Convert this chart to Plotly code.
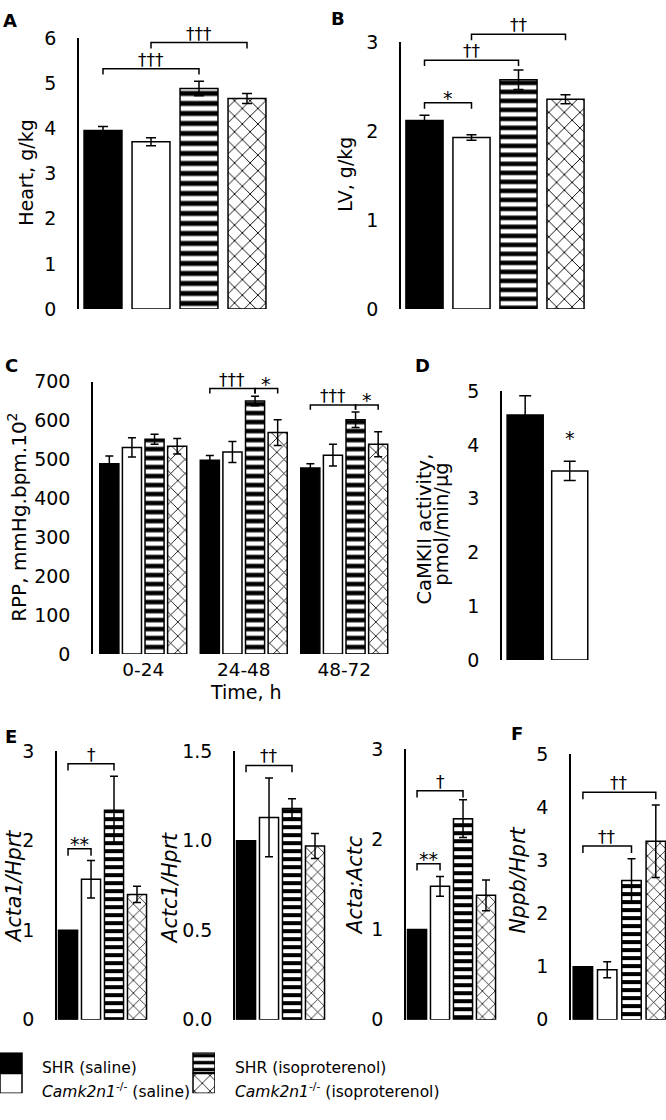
import plotly.graph_objects as go

W, H = 666, 1120
FONT = "DejaVu Sans, Liberation Sans, Arial, sans-serif"

# ---------------- data ----------------
series_names = ["SHR (saline)", "Camk2n1-/- (saline)", "SHR (isoproterenol)", "Camk2n1-/- (isoproterenol)"]

heart = [3.96, 3.71, 4.89, 4.67]
heart_err = [0.09, 0.09, 0.16, 0.11]

lv = [2.12, 1.93, 2.58, 2.36]
lv_err = [0.06, 0.03, 0.11, 0.05]

time_bins = ["0-24", "24-48", "48-72"]
rpp_shr_saline = [489, 498, 478]
rpp_ko_saline = [531, 519, 511]
rpp_shr_iso = [552, 650, 602]
rpp_ko_iso = [534, 569, 539]
rpp_shr_saline_err = [20, 12, 11]
rpp_ko_saline_err = [25, 27, 28]
rpp_shr_iso_err = [13, 12, 20]
rpp_ko_iso_err = [20, 33, 32]

camk = [4.56, 3.52]
camk_err = [0.36, 0.18]

acta1 = [1.0, 1.57, 2.34, 1.40]
acta1_err = [0, 0.21, 0.38, 0.09]
actc1 = [1.0, 1.13, 1.18, 0.97]
actc1_err = [0, 0.22, 0.055, 0.07]
acta_actc = [1.0, 1.48, 2.23, 1.38]
acta_actc_err = [0, 0.11, 0.21, 0.17]
nppb = [1.0, 0.94, 2.62, 3.36]
nppb_err = [0, 0.15, 0.41, 0.68]

# ---------------- geometry (pixels) ----------------
GEO = {
    "A": dict(n=1, xd=(79, 271), xr=(-0.5, 3.5), yd=(28, 304), yr=(0, 6), dt=1),
    "B": dict(n=2, xd=(401, 589), xr=(-0.5, 3.5), yd=(32, 304), yr=(0, 3), dt=1),
    "C": dict(n=3, xd=(93, 394.5), xr=(-0.5, 2.5), yd=(378, 656), yr=(0, 700), dt=100),
    "D": dict(n=4, xd=(502, 592), xr=(-0.52, 1.5), yd=(388, 662), yr=(0, 5), dt=1),
    "E1": dict(n=5, xd=(57, 148.5), xr=(-0.48, 3.5), yd=(755, 1029), yr=(0, 3), dt=1),
    "E2": dict(n=6, xd=(235, 326.5), xr=(-0.48, 3.5), yd=(755, 1029), yr=(0, 1.5), dt=0.5),
    "E3": dict(n=7, xd=(406, 497.5), xr=(-0.48, 3.5), yd=(753, 1029), yr=(0, 3), dt=1),
    "F": dict(n=8, xd=(571, 666), xr=(-0.49, 3.42), yd=(758, 1029), yr=(0, 5), dt=1),
}


def ax_id(n, kind):
    return kind if n == 1 else f"{kind}{n}"


def paper_x(p, xv):
    g = GEO[p]
    f = (xv - g["xr"][0]) / (g["xr"][1] - g["xr"][0])
    return (g["xd"][0] + f * (g["xd"][1] - g["xd"][0])) / W


def paper_y(p, yv):
    g = GEO[p]
    f = (yv - g["yr"][0]) / (g["yr"][1] - g["yr"][0])
    return 1 - (g["yd"][1] - f * (g["yd"][1] - g["yd"][0])) / H


def style(i, stripe, cross, cross_sol=0.16):
    if i == 0:
        return dict(color="black", line=dict(color="black", width=1.5))
    if i == 1:
        return dict(color="white", line=dict(color="black", width=1.5))
    if i == 2:
        return dict(color="white", line=dict(color="black", width=1.5),
                    pattern=dict(shape="-", fgcolor="black", bgcolor="white", size=stripe, solidity=0.5,
                                 fillmode="replace"))
    return dict(color="white", line=dict(color="black", width=1.5),
                pattern=dict(shape="x", fgcolor="black", bgcolor="white", size=cross, solidity=cross_sol,
                             fillmode="replace"))


fig = go.Figure()


def add_simple(p, vals, errs, width, stripe, cross, capw):
    n = GEO[p]["n"]
    for i, (v, e) in enumerate(zip(vals, errs)):
        fig.add_trace(go.Bar(
            x=[i], y=[v], width=width, marker=style(i, stripe, cross),
            error_y=dict(type="data", array=[e], color="black", thickness=1.5, width=capw, visible=e > 0),
            xaxis=ax_id(n, "x"), yaxis=ax_id(n, "y"), showlegend=False, hoverinfo="skip"))


add_simple("A", heart, heart_err, 0.79, 10, 11, 5)
add_simple("B", lv, lv_err, 0.79, 9, 11, 5)
add_simple("D", camk, camk_err, 0.81, 9, 11, 6)
add_simple("E1", acta1, acta1_err, 0.83, 8, 9, 4)
add_simple("E2", actc1, actc1_err, 0.83, 8, 9, 4)
add_simple("E3", acta_actc, acta_actc_err, 0.83, 8, 9, 4)
add_simple("F", nppb, nppb_err, 0.8, 8, 9, 4)

# panel C grouped
c_offsets = [-0.3375, -0.1125, 0.1125, 0.3375]
c_vals = [rpp_shr_saline, rpp_ko_saline, rpp_shr_iso, rpp_ko_iso]
c_errs = [rpp_shr_saline_err, rpp_ko_saline_err, rpp_shr_iso_err, rpp_ko_iso_err]
for i in range(4):
    fig.add_trace(go.Bar(
        x=[g + c_offsets[i] for g in range(len(time_bins))], y=c_vals[i], width=0.19,
        marker=style(i, 9, 10),
        error_y=dict(type="data", array=c_errs[i], color="black", thickness=1.5, width=4),
        xaxis="x3", yaxis="y3", showlegend=False, hoverinfo="skip"))

# legend swatches subplot (9)
leg_cols = [0, 0, 1, 1]
leg_base = [1, 0, 1, 0]
for i in range(4):
    fig.add_trace(go.Bar(x=[leg_cols[i]], y=[0.96], base=[leg_base[i]], width=22 / 193,
                         marker=style(i, 7, 11, 0.14), xaxis="x9", yaxis="y9",
                         showlegend=False, hoverinfo="skip"))

layout = dict(width=W, height=H, margin=dict(l=0, r=0, t=0, b=0), autosize=False,
              paper_bgcolor="white", plot_bgcolor="rgba(0,0,0,0)", showlegend=False,
              font=dict(family=FONT, color="black"), barmode="overlay")

for p, g in GEO.items():
    n = g["n"]
    xk = "xaxis" if n == 1 else f"xaxis{n}"
    yk = "yaxis" if n == 1 else f"yaxis{n}"
    fs = 19
    layout[xk] = dict(domain=[g["xd"][0] / W, g["xd"][1] / W], range=list(g["xr"]), anchor=ax_id(n, "y"),
                      showgrid=False, zeroline=False, showline=False, showticklabels=False, ticks="",
                      fixedrange=True)
    nt = round((g["yr"][1] - g["yr"][0]) / g["dt"])
    tv = [g["yr"][0] + k * g["dt"] for k in range(nt + 1)]
    tt = [f"{v:.1f}" for v in tv] if p == "E2" else [f"{v:g}" for v in tv]
    layout[yk] = dict(domain=[1 - g["yd"][1] / H, 1 - g["yd"][0] / H], range=list(g["yr"]),
                      anchor=ax_id(n, "x"), showgrid=False, zeroline=False, showline=True,
                      linecolor="black", linewidth=1.5, ticks="", tickvals=tv, ticktext=tt,
                      tickfont=dict(size=fs, family=FONT, color="black"), ticklabelstandoff=17,
                      fixedrange=True)

layout["xaxis3"].update(showticklabels=True, tickvals=list(range(len(time_bins))), ticktext=time_bins,
                        tickfont=dict(size=18.5, family=FONT, color="black"), ticklabelstandoff=2)

layout["xaxis9"] = dict(domain=[0, 215 / W], range=[-11 / 193, 1 + 11 / 193], anchor="y9", visible=False,
                        fixedrange=True)
layout["yaxis9"] = dict(domain=[1 - 1104 / H, 1 - 1062 / H], range=[0, 2], anchor="x9", visible=False,
                        fixedrange=True)

fig.update_layout(**layout)

# ---------------- brackets ----------------
# (panel, x_from, x_to, level, label, drop_px, label_size)
brackets = [
    ("A", 0, 2, 5.33, "†††", 6, 17),
    ("A", 1, 3, 5.91, "†††", 6, 17),
    ("B", 0, 1, 2.32, "*", 6, 19),
    ("B", 0, 2, 2.80, "††", 6, 17),
    ("B", 1, 3, 3.09, "††", 6, 17),
    ("C", 1 + c_offsets[0], 1 + c_offsets[2], 682, "†††", 5, 17),
    ("C", 1 + c_offsets[2], 1 + c_offsets[3], 682, "*", 5, 19),
    ("C", 2 + c_offsets[0], 2 + c_offsets[2], 640, "†††", 5, 17),
    ("C", 2 + c_offsets[2], 2 + c_offsets[3], 640, "*", 5, 19),
    ("E1", 0, 2, 2.86, "†", 7, 17),
    ("E1", 0, 1, 1.91, "**", 7, 19),
    ("E2", 0, 2, 1.42, "††", 7, 17),
    ("E3", 0, 2, 2.54, "†", 7, 17),
    ("E3", 0, 1, 1.73, "**", 7, 19),
    ("F", 0, 2, 3.27, "††", 7, 17),
    ("F", 0, 3, 4.28, "††", 7, 17),
]

shapes = []
annotations = []
for p, x0, x1, lvl, lab, drop, ls in brackets:
    px0, px1 = paper_x(p, x0), paper_x(p, x1)
    yl = paper_y(p, lvl)
    yd = yl - drop / H
    shapes.append(dict(type="path", xref="paper", yref="paper",
                       path=f"M {px0},{yd} L {px0},{yl} L {px1},{yl} L {px1},{yd}",
                       line=dict(color="black", width=1.5)))
    star = lab.startswith("*")
    annotations.append(dict(xref="paper", yref="paper", x=(px0 + px1) / 2, y=yl, text=lab,
                            showarrow=False, xanchor="center", yanchor="bottom",
                            yshift=-8 if star else -3,
                            font=dict(size=ls, family=FONT, color="black")))

# significance star in D
annotations.append(dict(xref="paper", yref="paper", x=paper_x("D", 1), y=paper_y("D", 4.0), text="*",
                        showarrow=False, xanchor="center", yanchor="bottom", yshift=-6,
                        font=dict(size=19, family=FONT, color="black")))

# panel letters
for lab, xp, yp in [("A", 10, 10), ("B", 338, 8), ("C", 11, 362), ("D", 422, 362), ("E", 11, 740),
                    ("F", 517, 737)]:
    annotations.append(dict(xref="paper", yref="paper", x=xp / W, y=1 - yp / H, text=f"<b>{lab}</b>",
                            showarrow=False, xanchor="center", yanchor="middle",
                            font=dict(size=18, family=FONT, color="black")))

# axis titles
titles = [
    ("Heart, g/kg", 26, 165, 19),
    ("LV, g/kg", 345, 167, 19),
    ("RPP, mmHg.bpm.10<sup>2</sup>", 17, 517, 20),
    ("CaMKII activity,", 425, 529, 19.5),
    ("pmol/min/µg", 442, 524, 19.5),
    ("<i>Acta1/Hprt</i>", 14, 893, 20.5),
    ("<i>Actc1/Hprt</i>", 170, 895, 20.5),
    ("<i>Acta:Actc</i>", 355, 893, 20.5),
    ("<i>Nppb/Hprt</i>", 518, 887, 20.5),
]
for t, xp, yp, fs in titles:
    annotations.append(dict(xref="paper", yref="paper", x=xp / W, y=1 - yp / H, text=t, textangle=-90,
                            showarrow=False, xanchor="center", yanchor="middle",
                            font=dict(size=fs, family=FONT, color="black")))

annotations.append(dict(xref="paper", yref="paper", x=246 / W, y=1 - 695 / H, text="Time, h",
                        showarrow=False, xanchor="center", yanchor="middle",
                        font=dict(size=19, family=FONT, color="black")))

# legend texts
leg_text = ["SHR (saline)", "<i>Camk2n1</i><sup>-/-</sup> (saline)", "SHR (isoproterenol)",
            "<i>Camk2n1</i><sup>-/-</sup> (isoproterenol)"]
leg_pos = [(40, 1078), (40, 1101), (233, 1078), (233, 1101)]
for t, (xp, yp) in zip(leg_text, leg_pos):
    annotations.append(dict(xref="paper", yref="paper", x=xp / W, y=1 - yp / H, text=t,
                            showarrow=False, xanchor="left", yanchor="middle",
                            font=dict(size=15.5, family=FONT, color="black")))

fig.update_layout(shapes=shapes, annotations=annotations)
fig.write_html("out.html", config={"displayModeBar": False})

# remove default page margin so the figure sits at the window origin
with open("out.html", "r", encoding="utf-8") as fh:
    html = fh.read()
html = html.replace("<body>", '<body style="margin:0;padding:0;overflow:hidden">', 1)
with open("out.html", "w", encoding="utf-8") as fh:
    fh.write(html)
